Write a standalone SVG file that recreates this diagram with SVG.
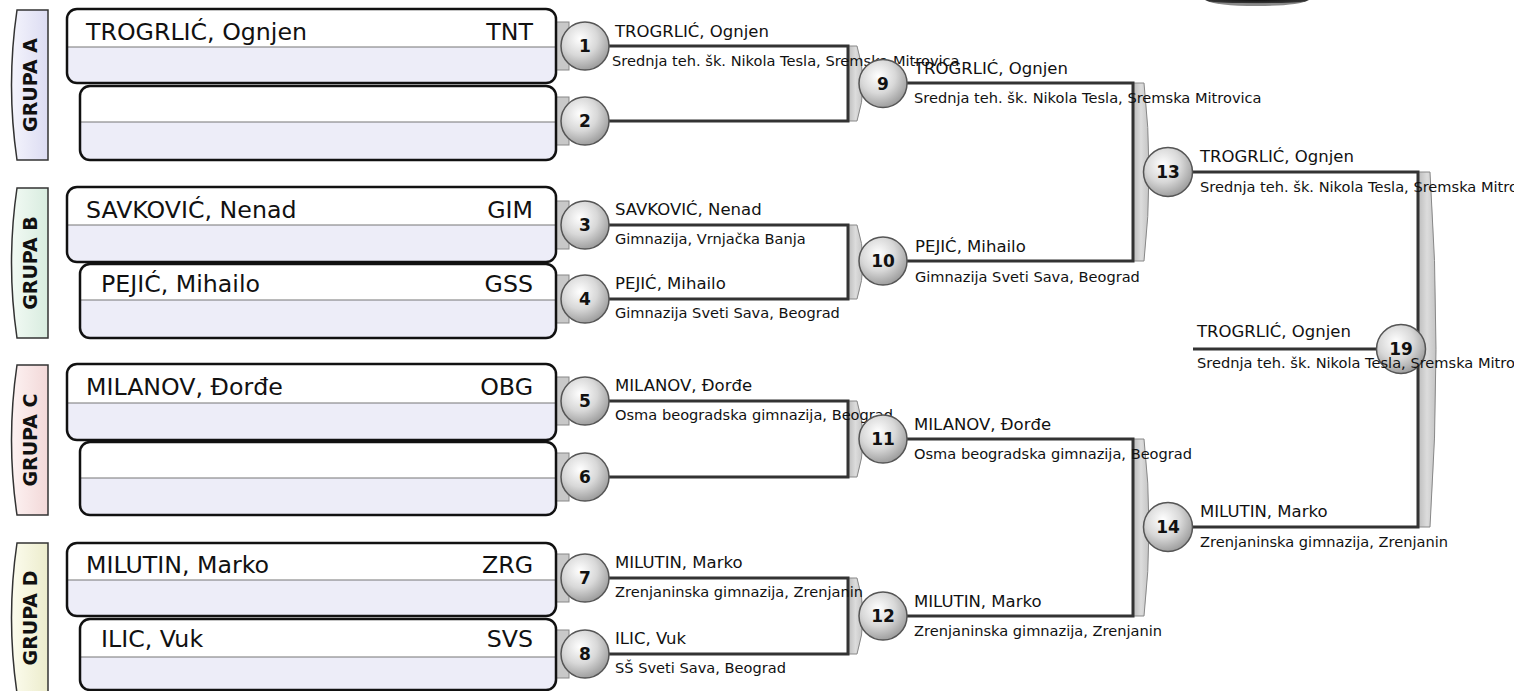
<svg xmlns="http://www.w3.org/2000/svg" width="1514" height="691" viewBox="0 0 1514 691">
<defs>
<radialGradient id="cg" cx="40%" cy="35%" r="65%">
<stop offset="0" stop-color="#ffffff"/>
<stop offset="0.55" stop-color="#d8d8d8"/>
<stop offset="1" stop-color="#a0a0a0"/>
</radialGradient>
<linearGradient id="bg" x1="0" y1="0" x2="1" y2="0">
<stop offset="0" stop-color="#bcbcbc"/>
<stop offset="0.5" stop-color="#dcdcdc"/>
<stop offset="1" stop-color="#c4c4c4"/>
</linearGradient>
<linearGradient id="ga" x1="0" y1="0" x2="1" y2="0"><stop offset="0" stop-color="#f4f4fc"/><stop offset="1" stop-color="#dcdcf2"/></linearGradient>
<linearGradient id="gb" x1="0" y1="0" x2="1" y2="0"><stop offset="0" stop-color="#f2faf4"/><stop offset="1" stop-color="#d8ecdf"/></linearGradient>
<linearGradient id="gc" x1="0" y1="0" x2="1" y2="0"><stop offset="0" stop-color="#fdf2f2"/><stop offset="1" stop-color="#f2d8d8"/></linearGradient>
<linearGradient id="gd" x1="0" y1="0" x2="1" y2="0"><stop offset="0" stop-color="#fcfcee"/><stop offset="1" stop-color="#ececcc"/></linearGradient>
<radialGradient id="topg" cx="50%" cy="0%" r="60%">
<stop offset="0" stop-color="#111"/>
<stop offset="0.8" stop-color="#333"/>
<stop offset="1" stop-color="#888"/>
</radialGradient>
</defs>
<style>
text{font-family:"DejaVu Sans","Liberation Sans",sans-serif;fill:#111}
.tab{stroke:#333;stroke-width:1.5}
.gl{font-size:19px;font-weight:bold;text-anchor:middle}
.box{fill:none;stroke:#111;stroke-width:2.5}
.low{fill:#ededf8}
.up{fill:#ffffff}
.div{stroke:#777;stroke-width:1.2}
.nm{font-size:23.7px}
.cd{font-size:23.7px;text-anchor:end}
.stub{fill:#c8c8c8;stroke:#888;stroke-width:1}
.c{fill:url(#cg);stroke:#555;stroke-width:1.5}
.cn{font-size:17px;font-weight:bold;text-anchor:middle}
.ln{fill:none;stroke:#333;stroke-width:3}
.br{fill:url(#bg);stroke:#888;stroke-width:1}
.n{font-size:16.5px}
.s{font-size:14.6px}
</style>

<path d="M1205,0 L1309,0 Q1298,6 1257,6 Q1216,6 1205,0 Z" fill="url(#topg)"/>

<g id="groupA">
<path class="tab" fill="url(#ga)" d="M48,10 L17,10 Q6,85 17,160 L48,160 Z"/>
<text class="gl" transform="translate(37,85) rotate(-90)">GRUPA A</text>
</g>
<g id="groupB">
<path class="tab" fill="url(#gb)" d="M48,188 L17,188 Q6,263 17,338 L48,338 Z"/>
<text class="gl" transform="translate(37,263) rotate(-90)">GRUPA B</text>
</g>
<g id="groupC">
<path class="tab" fill="url(#gc)" d="M48,365 L17,365 Q6,440 17,515 L48,515 Z"/>
<text class="gl" transform="translate(37,440) rotate(-90)">GRUPA C</text>
</g>
<g id="groupD">
<path class="tab" fill="url(#gd)" d="M48,543 L17,543 Q6,618 17,693 L48,693 Z"/>
<text class="gl" transform="translate(37,618) rotate(-90)">GRUPA D</text>
</g>

<g id="connectors">
<path class="br" d="M848,46 L857,46 Q869,83.5 857,121 L848,121 Z"/>
<path class="ln" d="M609,46 H848 V121 H609"/>
<path class="br" d="M848,225 L857,225 Q869,262 857,299 L848,299 Z"/>
<path class="ln" d="M609,225 H848 V299 H609"/>
<path class="br" d="M848,401 L857,401 Q869,439 857,477 L848,477 Z"/>
<path class="ln" d="M609,401 H848 V477 H609"/>
<path class="br" d="M848,578 L857,578 Q869,616 857,654 L848,654 Z"/>
<path class="ln" d="M609,578 H848 V654 H609"/>
<path class="br" d="M1133,83 L1144,83 Q1154,172 1144,261 L1133,261 Z"/>
<path class="ln" d="M907,83 H1133 V261 H907"/>
<path class="br" d="M1133,439 L1144,439 Q1154,527 1144,616 L1133,616 Z"/>
<path class="ln" d="M907,439 H1133 V616 H907"/>
<path class="br" d="M1418,172 L1430,172 Q1442,349 1430,527 L1418,527 Z"/>
<path class="ln" d="M1192,172 H1418 V527 H1192"/>
<path class="ln" d="M1193,349 H1380"/>
</g>

<g id="stubs">
<rect class="stub" x="554" y="22" width="15" height="48"/>
<rect class="stub" x="554" y="97" width="15" height="48"/>
<rect class="stub" x="554" y="201" width="15" height="48"/>
<rect class="stub" x="554" y="275" width="15" height="48"/>
<rect class="stub" x="554" y="377" width="15" height="48"/>
<rect class="stub" x="554" y="453" width="15" height="48"/>
<rect class="stub" x="554" y="554" width="15" height="48"/>
<rect class="stub" x="554" y="630" width="15" height="48"/>
</g>

<g id="box-A1">
<rect class="low" x="67" y="9" width="489" height="74" rx="10"/>
<path class="up" d="M67,47 V19 Q67,9 77,9 H546 Q556,9 556,19 V47 Z"/>
<line class="div" x1="67" y1="47" x2="556" y2="47"/>
<rect class="box" x="67" y="9" width="489" height="74" rx="10"/>
<text class="nm" x="86" y="40">TROGRLIĆ, Ognjen</text>
<text class="cd" x="533" y="40">TNT</text>
</g>
<g id="box-A2">
<rect class="low" x="80" y="86" width="476" height="74" rx="10"/>
<path class="up" d="M80,122 V96 Q80,86 90,86 H546 Q556,86 556,96 V122 Z"/>
<line class="div" x1="80" y1="122" x2="556" y2="122"/>
<rect class="box" x="80" y="86" width="476" height="74" rx="10"/>
</g>
<g id="box-B1">
<rect class="low" x="67" y="187" width="489" height="75" rx="10"/>
<path class="up" d="M67,225 V197 Q67,187 77,187 H546 Q556,187 556,197 V225 Z"/>
<line class="div" x1="67" y1="225" x2="556" y2="225"/>
<rect class="box" x="67" y="187" width="489" height="75" rx="10"/>
<text class="nm" x="86" y="218">SAVKOVIĆ, Nenad</text>
<text class="cd" x="533" y="218">GIM</text>
</g>
<g id="box-B2">
<rect class="low" x="80" y="264" width="476" height="74" rx="10"/>
<path class="up" d="M80,300 V274 Q80,264 90,264 H546 Q556,264 556,274 V300 Z"/>
<line class="div" x1="80" y1="300" x2="556" y2="300"/>
<rect class="box" x="80" y="264" width="476" height="74" rx="10"/>
<text class="nm" x="101" y="292">PEJIĆ, Mihailo</text>
<text class="cd" x="533" y="292">GSS</text>
</g>
<g id="box-C1">
<rect class="low" x="67" y="364" width="489" height="76" rx="10"/>
<path class="up" d="M67,403 V374 Q67,364 77,364 H546 Q556,364 556,374 V403 Z"/>
<line class="div" x1="67" y1="403" x2="556" y2="403"/>
<rect class="box" x="67" y="364" width="489" height="76" rx="10"/>
<text class="nm" x="86" y="395">MILANOV, Đorđe</text>
<text class="cd" x="533" y="395">OBG</text>
</g>
<g id="box-C2">
<rect class="low" x="80" y="442" width="476" height="73" rx="10"/>
<path class="up" d="M80,478 V452 Q80,442 90,442 H546 Q556,442 556,452 V478 Z"/>
<line class="div" x1="80" y1="478" x2="556" y2="478"/>
<rect class="box" x="80" y="442" width="476" height="73" rx="10"/>
</g>
<g id="box-D1">
<rect class="low" x="67" y="543" width="489" height="73" rx="10"/>
<path class="up" d="M67,580 V553 Q67,543 77,543 H546 Q556,543 556,553 V580 Z"/>
<line class="div" x1="67" y1="580" x2="556" y2="580"/>
<rect class="box" x="67" y="543" width="489" height="73" rx="10"/>
<text class="nm" x="86" y="573">MILUTIN, Marko</text>
<text class="cd" x="533" y="573">ZRG</text>
</g>
<g id="box-D2">
<rect class="low" x="80" y="619" width="476" height="71" rx="10"/>
<path class="up" d="M80,657 V629 Q80,619 90,619 H546 Q556,619 556,629 V657 Z"/>
<line class="div" x1="80" y1="657" x2="556" y2="657"/>
<rect class="box" x="80" y="619" width="476" height="71" rx="10"/>
<text class="nm" x="101" y="647">ILIC, Vuk</text>
<text class="cd" x="533" y="647">SVS</text>
</g>

<g id="m1"><circle class="c" cx="585" cy="46" r="24"/><text class="cn" x="585" y="52">1</text>
<text class="n" x="615" y="37">TROGRLIĆ, Ognjen</text><text class="s" x="612" y="66">Srednja teh. šk. Nikola Tesla, Sremska Mitrovica</text></g>
<g id="m2"><circle class="c" cx="585" cy="121" r="24"/><text class="cn" x="585" y="127">2</text></g>
<g id="m3"><circle class="c" cx="585" cy="225" r="24"/><text class="cn" x="585" y="231">3</text>
<text class="n" x="615" y="215">SAVKOVIĆ, Nenad</text><text class="s" x="615" y="244">Gimnazija, Vrnjačka Banja</text></g>
<g id="m4"><circle class="c" cx="585" cy="299" r="24"/><text class="cn" x="585" y="305">4</text>
<text class="n" x="615" y="289">PEJIĆ, Mihailo</text><text class="s" x="615" y="318">Gimnazija Sveti Sava, Beograd</text></g>
<g id="m5"><circle class="c" cx="585" cy="401" r="24"/><text class="cn" x="585" y="407">5</text>
<text class="n" x="615" y="391">MILANOV, Đorđe</text><text class="s" x="615" y="420">Osma beogradska gimnazija, Beograd</text></g>
<g id="m6"><circle class="c" cx="585" cy="477" r="24"/><text class="cn" x="585" y="483">6</text></g>
<g id="m7"><circle class="c" cx="585" cy="578" r="24"/><text class="cn" x="585" y="584">7</text>
<text class="n" x="615" y="568">MILUTIN, Marko</text><text class="s" x="615" y="597">Zrenjaninska gimnazija, Zrenjanin</text></g>
<g id="m8"><circle class="c" cx="585" cy="654" r="24"/><text class="cn" x="585" y="660">8</text>
<text class="n" x="615" y="644">ILIC, Vuk</text><text class="s" x="615" y="673">SŠ Sveti Sava, Beograd</text></g>

<g id="m9"><circle class="c" cx="883" cy="83.5" r="24"/><text class="cn" x="883" y="89.5">9</text>
<text class="n" x="914" y="74">TROGRLIĆ, Ognjen</text><text class="s" x="914" y="103">Srednja teh. šk. Nikola Tesla, Sremska Mitrovica</text></g>
<g id="m10"><circle class="c" cx="883" cy="261" r="24"/><text class="cn" x="883" y="267">10</text>
<text class="n" x="915" y="252">PEJIĆ, Mihailo</text><text class="s" x="915" y="282">Gimnazija Sveti Sava, Beograd</text></g>
<g id="m11"><circle class="c" cx="883" cy="439" r="24"/><text class="cn" x="883" y="445">11</text>
<text class="n" x="914" y="430">MILANOV, Đorđe</text><text class="s" x="914" y="459">Osma beogradska gimnazija, Beograd</text></g>
<g id="m12"><circle class="c" cx="883" cy="616" r="24"/><text class="cn" x="883" y="622">12</text>
<text class="n" x="914" y="607">MILUTIN, Marko</text><text class="s" x="914" y="636">Zrenjaninska gimnazija, Zrenjanin</text></g>

<g id="m13"><circle class="c" cx="1168" cy="172" r="24.5"/><text class="cn" x="1168" y="178">13</text>
<text class="n" x="1200" y="162">TROGRLIĆ, Ognjen</text><text class="s" x="1200" y="192">Srednja teh. šk. Nikola Tesla, Sremska Mitrovica</text></g>
<g id="m14"><circle class="c" cx="1168" cy="527" r="24.5"/><text class="cn" x="1168" y="533">14</text>
<text class="n" x="1200" y="517">MILUTIN, Marko</text><text class="s" x="1200" y="547">Zrenjaninska gimnazija, Zrenjanin</text></g>

<g id="m19"><circle class="c" cx="1401" cy="349" r="24.5"/><text class="cn" x="1401" y="355">19</text>
<text class="n" x="1197" y="337">TROGRLIĆ, Ognjen</text><text class="s" x="1197" y="368">Srednja teh. šk. Nikola Tesla, Sremska Mitrovica</text></g>
</svg>
